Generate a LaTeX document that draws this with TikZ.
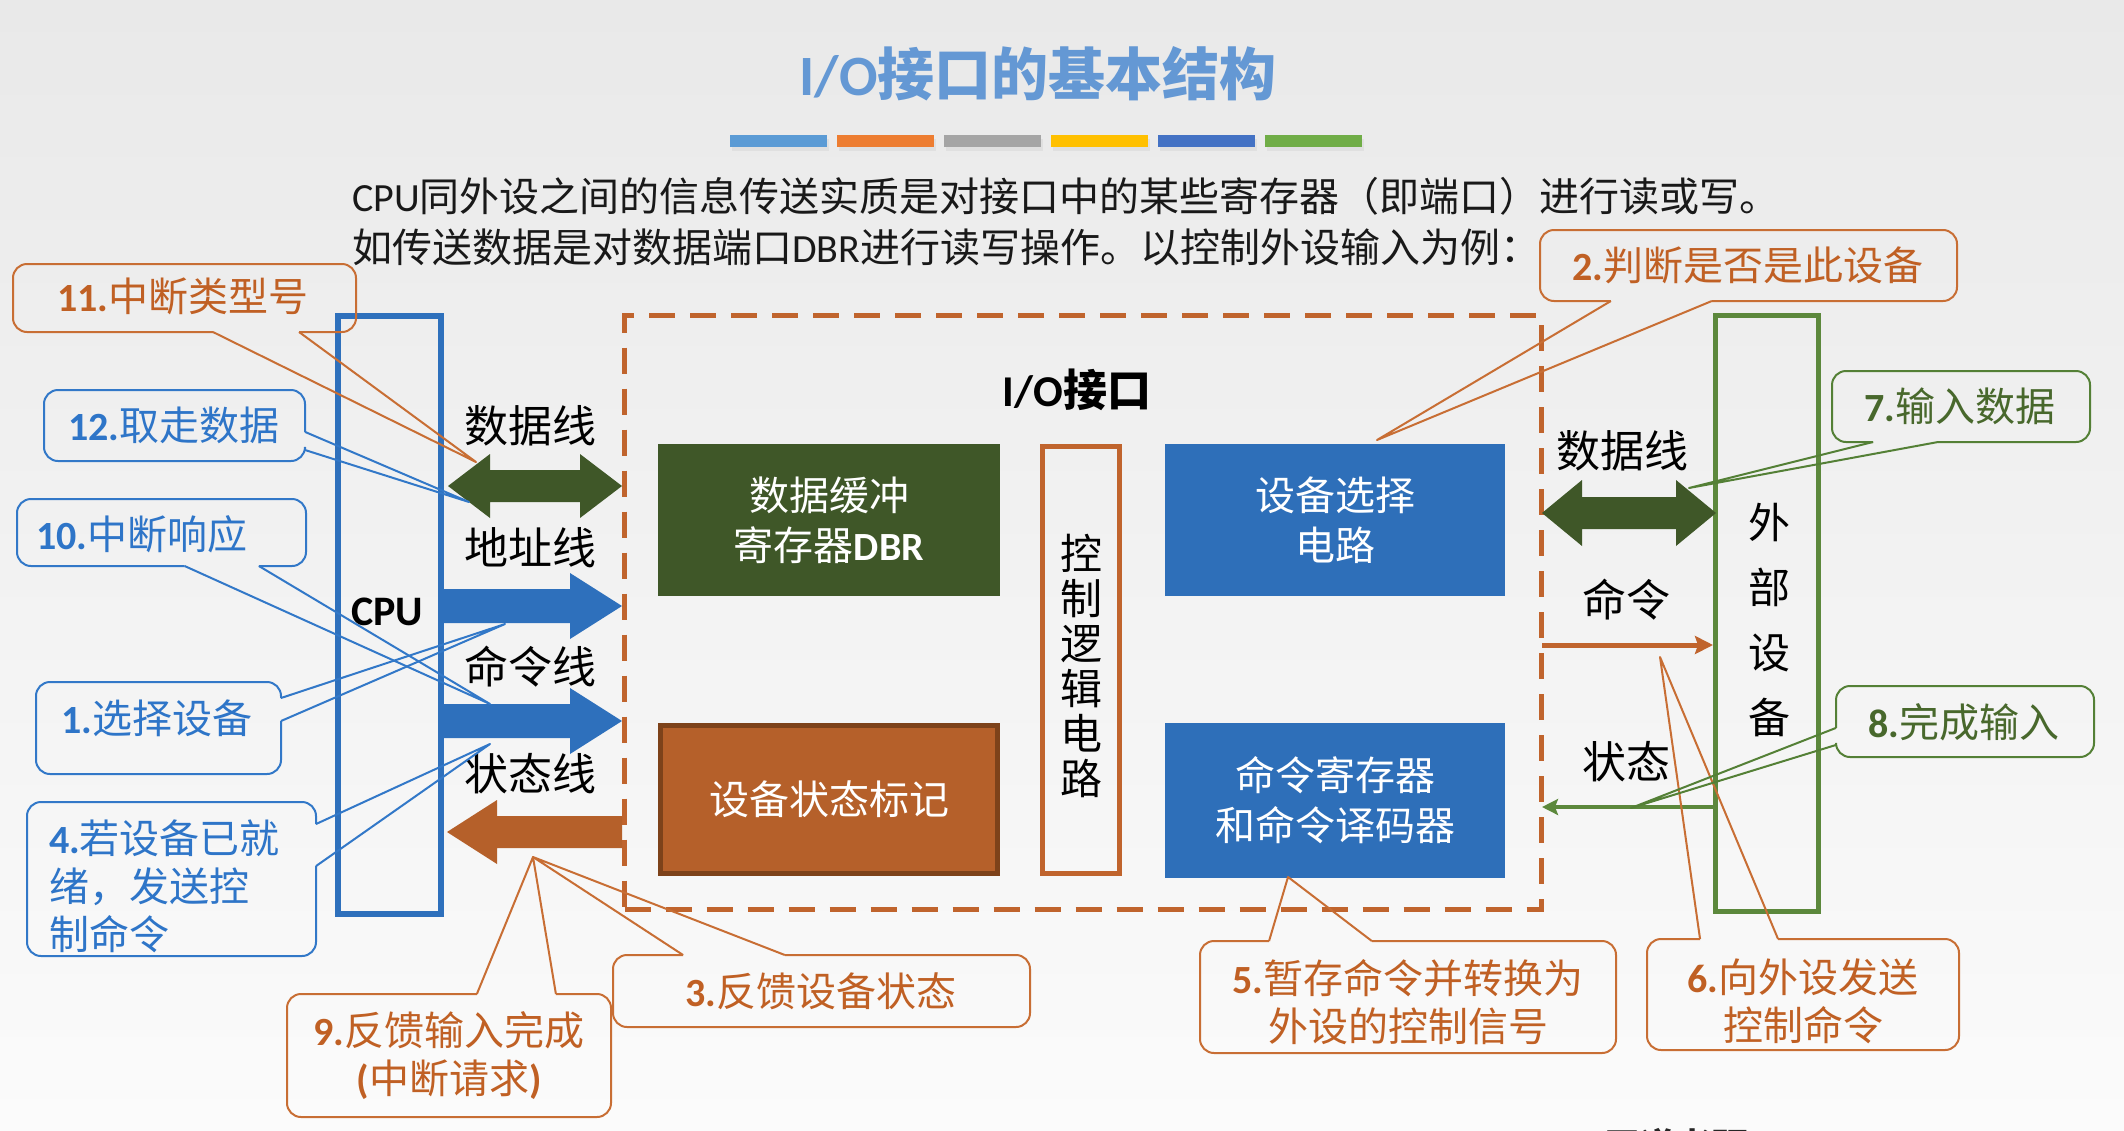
\documentclass[tikz,border=0pt]{standalone}
\usepackage{fontspec}
\setmainfont{Noto Sans CJK SC}
\newfontfamily\lat{Carlito}
\usetikzlibrary{calc,arrows.meta}

\definecolor{bgtop}{RGB}{233,233,233}
\definecolor{bgbot}{RGB}{251,251,251}
\definecolor{ttlblue}{RGB}{100,152,212}
\definecolor{barA}{RGB}{91,155,213}
\definecolor{barB}{RGB}{237,125,49}
\definecolor{barC}{RGB}{165,165,165}
\definecolor{barD}{RGB}{255,192,0}
\definecolor{barE}{RGB}{68,114,196}
\definecolor{barF}{RGB}{112,173,71}
\definecolor{cpublue}{RGB}{46,112,188}
\definecolor{boxblue}{RGB}{46,111,185}
\definecolor{dkgreen}{RGB}{63,87,40}
\definecolor{devgreen}{RGB}{92,136,60}
\definecolor{ifaceorange}{RGB}{192,100,45}
\definecolor{stateorange}{RGB}{181,96,42}
\definecolor{stateedge}{RGB}{125,66,26}
\definecolor{bodytext}{RGB}{25,25,25}
\definecolor{corange}{RGB}{200,110,52}
\definecolor{cblue}{RGB}{50,120,200}
\definecolor{cgreen}{RGB}{84,128,54}
\definecolor{txtorange}{RGB}{192,96,36}
\definecolor{txtblue}{RGB}{46,117,200}
\definecolor{txtgreen}{RGB}{72,104,44}

% bold Latin prefix of a callout ("11." etc.)
\newcommand\nb[1]{{\lat\bfseries #1}}

% callout outline: rounded box open at the pointer base, plus the wedge
\newcommand\calloutS[5]{%
  \draw[cline,#5] ($(#1.south west)!#2!(#1.south east)$) -- (#1.south west) -- (#1.north west) -- (#1.north east) -- (#1.south east) -- ($(#1.south west)!#3!(#1.south east)$);
  \draw[wedge,#5] ($(#1.south west)!#2!(#1.south east)$) -- (#4) -- ($(#1.south west)!#3!(#1.south east)$);}
\newcommand\calloutN[5]{%
  \draw[cline,#5] ($(#1.north west)!#2!(#1.north east)$) -- (#1.north west) -- (#1.south west) -- (#1.south east) -- (#1.north east) -- ($(#1.north west)!#3!(#1.north east)$);
  \draw[wedge,#5] ($(#1.north west)!#2!(#1.north east)$) -- (#4) -- ($(#1.north west)!#3!(#1.north east)$);}
\newcommand\calloutE[5]{%
  \draw[cline,#5] ($(#1.north east)!#2!(#1.south east)$) -- (#1.north east) -- (#1.north west) -- (#1.south west) -- (#1.south east) -- ($(#1.north east)!#3!(#1.south east)$);
  \draw[wedge,#5] ($(#1.north east)!#2!(#1.south east)$) -- (#4) -- ($(#1.north east)!#3!(#1.south east)$);}
\newcommand\calloutW[5]{%
  \draw[cline,#5] ($(#1.north west)!#2!(#1.south west)$) -- (#1.north west) -- (#1.north east) -- (#1.south east) -- (#1.south west) -- ($(#1.north west)!#3!(#1.south west)$);
  \draw[wedge,#5] ($(#1.north west)!#2!(#1.south west)$) -- (#4) -- ($(#1.north west)!#3!(#1.south west)$);}

% block arrows: #3 shaft half width, #4 head half width, #5 head length, #6 colour
\newcommand\dblarrow[6]{%
  \fill[#6] (#1) -- ($(#1)+(#5,-#4)$) -- ($(#1)+(#5,-#3)$) -- ($(#2)+(-#5,-#3)$) -- ($(#2)+(-#5,-#4)$) -- (#2) -- ($(#2)+(-#5,#4)$) -- ($(#2)+(-#5,#3)$) -- ($(#1)+(#5,#3)$) -- ($(#1)+(#5,#4)$) -- cycle;}
\newcommand\rarrow[6]{%
  \fill[#6] ($(#1)+(0,-#3)$) -- ($(#2)+(-#5,-#3)$) -- ($(#2)+(-#5,-#4)$) -- (#2) -- ($(#2)+(-#5,#4)$) -- ($(#2)+(-#5,#3)$) -- ($(#1)+(0,#3)$) -- cycle;}
\newcommand\larrow[6]{%
  \fill[#6] (#1) -- ($(#1)+(#5,-#4)$) -- ($(#1)+(#5,-#3)$) -- ($(#2)+(0,-#3)$) -- ($(#2)+(0,#3)$) -- ($(#1)+(#5,#3)$) -- ($(#1)+(#5,#4)$) -- cycle;}

\tikzset{
  body/.style={font=\fontsize{40}{48}\selectfont, text=bodytext, inner sep=0pt, anchor=west},
  busl/.style={font=\fontsize{44}{52}\selectfont, text=black, inner sep=0pt},
  boxtxt/.style={font=\fontsize{40}{50}\selectfont, text=white, align=center},
  regbox/.style={inner sep=0pt, outer sep=0pt},
  cbox/.style={inner sep=0pt, outer sep=0pt},
  ctxt/.style={font=\fontsize{40}{48}\selectfont, inner sep=0pt, align=center},
  cline/.style={line width=2pt, rounded corners=14pt},
  wedge/.style={line width=2pt, line join=round},
}

\begin{document}
\begin{tikzpicture}[x=1pt,y=-1pt]
\useasboundingbox (0,0) rectangle (2124,1130);
\shade[top color=bgtop,bottom color=bgbot] (0,0) rectangle (2124,1130);

% heading and colour bars
\node[font=\bfseries\fontsize{57}{68}\selectfont, text=ttlblue, inner sep=0pt] (title) at (1038,74) {{\lat I/O}接口的基本结构};
\foreach \c [count=\i from 0] in {barA,barB,barC,barD,barE,barF} {
  \fill[black!12] (732+107*\i,139) rectangle ++(97,12);
  \fill[\c] (730+107*\i,135) rectangle ++(97,12);
}

% explanatory text
\node[body] (line1) at (352,196) {{\lat CPU}同外设之间的信息传送实质是对接口中的某些寄存器（即端口）进行读或写。};
\node[body] (line2) at (352,247) {如传送数据是对数据端口{\lat DBR}进行读写操作。以控制外设输入为例：};

% CPU, interface and device frames
\node[regbox, draw=cpublue, line width=6pt, minimum width=103pt, minimum height=598pt] (cpu) at (389.5,615) {};
\node[font=\lat\bfseries\fontsize{42}{50}\selectfont, inner sep=0pt] (cpulbl) at (387,612) {CPU};
\node[regbox, draw=ifaceorange, line width=5pt, dash pattern=on 26pt off 15pt, minimum width=917pt, minimum height=594pt] (iface) at (1083,612.5) {};
\node[font=\bfseries\fontsize{44}{52}\selectfont, inner sep=0pt] (ifacelbl) at (1077,390) {{\lat I/O}接口};
\node[regbox, draw=devgreen, line width=5pt, minimum width=103pt, minimum height=596pt] (dev) at (1767,613.5) {};
\node[font=\fontsize{42}{65}\selectfont, align=center, inner sep=0pt] (devlbl) at (1769,620) {外\\部\\设\\备};

% registers and circuits inside the interface
\node[regbox, fill=dkgreen, minimum width=342pt, minimum height=152pt, boxtxt] (dbr) at (829,520) {数据缓冲\\寄存器{\lat\bfseries DBR}};
\node[regbox, fill=stateorange, draw=stateedge, line width=5pt, minimum width=337pt, minimum height=148pt, boxtxt] (stat) at (829,799.5) {设备状态标记};
\node[regbox, draw=ifaceorange, line width=5pt, minimum width=77pt, minimum height=427pt] (ctrl) at (1081,660) {};
\node[font=\fontsize{42}{45}\selectfont, align=center, inner sep=0pt] (ctrllbl) at (1081,666) {控\\制\\逻\\辑\\电\\路};
\node[regbox, fill=boxblue, minimum width=340pt, minimum height=152pt, boxtxt] (sel) at (1335,520) {设备选择\\电路};
\node[regbox, fill=boxblue, minimum width=340pt, minimum height=155pt, boxtxt] (cmd) at (1335,800.5) {命令寄存器\\和命令译码器};

% bus labels
\node[busl] (lbdata) at (530,426) {数据线};
\node[busl] (lbaddr) at (530,548) {地址线};
\node[busl] (lbcmd)  at (530,667) {命令线};
\node[busl] (lbstat) at (530,774) {状态线};
\node[busl] (rbdata) at (1622,451) {数据线};
\node[busl] (rbcmd)  at (1626,600) {命令};
\node[busl] (rbstat) at (1626,762) {状态};

% CPU side buses
\coordinate (ldA) at (448,486);  \coordinate (ldB) at (622,486);
\coordinate (laA) at (444,606);  \coordinate (laB) at (622,606);
\coordinate (lcA) at (444,721);  \coordinate (lcB) at (622,721);
\coordinate (lsA) at (447,832);  \coordinate (lsB) at (622,832);
\dblarrow{ldA}{ldB}{16}{32}{42}{dkgreen}
\rarrow{laA}{laB}{17}{33}{52}{cpublue}
\rarrow{lcA}{lcB}{17}{33}{52}{cpublue}
\larrow{lsA}{lsB}{16}{32}{50}{stateorange}

% device side lines
\coordinate (rdA) at (1542,513); \coordinate (rdB) at (1716,513);
\coordinate (rcA) at (1542,645); \coordinate (rcB) at (1713,645);
\coordinate (rsA) at (1716,807); \coordinate (rsB) at (1542,807);
\dblarrow{rdA}{rdB}{16}{33}{40}{dkgreen}
\draw[ifaceorange, line width=5pt, -{Stealth[length=18pt,width=18pt,inset=3pt]}] (rcA) -- (rcB);
\draw[devgreen, line width=4pt, -{Stealth[length=16pt,width=16pt,inset=3pt]}] (rsA) -- (rsB);

% callouts: boxes, texts and pointer tips
\node[cbox, minimum width=343pt, minimum height=68pt] (c11) at (184.5,298) {};
\node[ctxt, text=txtorange] (t11) at (183,296) {\nb{11.}中断类型号};
\coordinate (p11) at (476,462);
\calloutS{c11}{0.583}{0.834}{p11}{corange}

\node[cbox, minimum width=261pt, minimum height=71pt] (c12) at (174.5,425.5) {};
\node[ctxt, text=txtblue] (t12) at (174,425) {\nb{12.}取走数据};
\coordinate (p12) at (469,502);
\calloutE{c12}{0.59}{0.845}{p12}{cblue}

\node[cbox, minimum width=289pt, minimum height=67pt] (c10) at (161.5,532.5) {};
\node[ctxt, text=txtblue] (t10) at (142,534) {\nb{10.}中断响应};
\coordinate (p10) at (490,704);
\calloutS{c10}{0.58}{0.837}{p10}{cblue}

\node[cbox, minimum width=245pt, minimum height=92pt] (c1) at (158.5,728) {};
\node[ctxt, text=txtblue] (t1) at (157,718) {\nb{1.}选择设备};
\coordinate (p1) at (505,624);
\calloutE{c1}{0.174}{0.424}{p1}{cblue}

\node[cbox, minimum width=289pt, minimum height=154pt] (c4) at (171.5,879) {};
\node[ctxt, text=txtblue, align=left, text width=245pt] (t4) at (171.5,886) {\nb{4.}若设备已就\\绪，发送控\\制命令};
\coordinate (p4) at (490,744);
\calloutE{c4}{0.143}{0.416}{p4}{cblue}

\node[cbox, minimum width=324pt, minimum height=123pt] (c9) at (449,1055.5) {};
\node[ctxt, text=txtorange] (t9) at (449,1056) {\nb{9.}反馈输入完成\\\nb{(}中断请求\nb{)}};
\coordinate (p9) at (533,857);
\calloutN{c9}{0.586}{0.83}{p9}{corange}

\node[cbox, minimum width=417pt, minimum height=72pt] (c3) at (821.5,991) {};
\node[ctxt, text=txtorange] (t3) at (821,991) {\nb{3.}反馈设备状态};
\calloutN{c3}{0.168}{0.412}{p9}{corange}

\node[cbox, minimum width=416pt, minimum height=112pt] (c5) at (1408,997) {};
\node[ctxt, text=txtorange] (t5) at (1408,1002) {\nb{5.}暂存命令并转换为\\外设的控制信号};
\coordinate (p5) at (1288,877);
\calloutN{c5}{0.166}{0.413}{p5}{corange}

\node[cbox, minimum width=312pt, minimum height=111pt] (c6) at (1803,994.5) {};
\node[ctxt, text=txtorange] (t6) at (1803,1001) {\nb{6.}向外设发送\\控制命令};
\coordinate (p6) at (1660,657);
\calloutN{c6}{0.17}{0.42}{p6}{corange}

\node[cbox, minimum width=417pt, minimum height=71pt] (c2) at (1748.5,265.5) {};
\node[ctxt, text=txtorange] (t2) at (1748,265) {\nb{2.}判断是否是此设备};
\coordinate (p2) at (1377,440);
\calloutS{c2}{0.17}{0.412}{p2}{corange}

\node[cbox, minimum width=258pt, minimum height=71pt] (c7) at (1961,406.5) {};
\node[ctxt, text=txtgreen] (t7) at (1960,406) {\nb{7.}输入数据};
\coordinate (p7) at (1689,488);
\calloutS{c7}{0.159}{0.411}{p7}{cgreen}

\node[cbox, minimum width=258pt, minimum height=71pt] (c8) at (1965,721.5) {};
\node[ctxt, text=txtgreen] (t8) at (1964,722) {\nb{8.}完成输入};
\coordinate (p8) at (1631,808);
\calloutW{c8}{0.59}{0.83}{p8}{cgreen}

% footer, cut by the page edge
\node[font=\bfseries\fontsize{36}{40}\selectfont, text=black!85, inner sep=0pt] (footer) at (1676,1146) {王道考研};
\end{tikzpicture}
\end{document}
